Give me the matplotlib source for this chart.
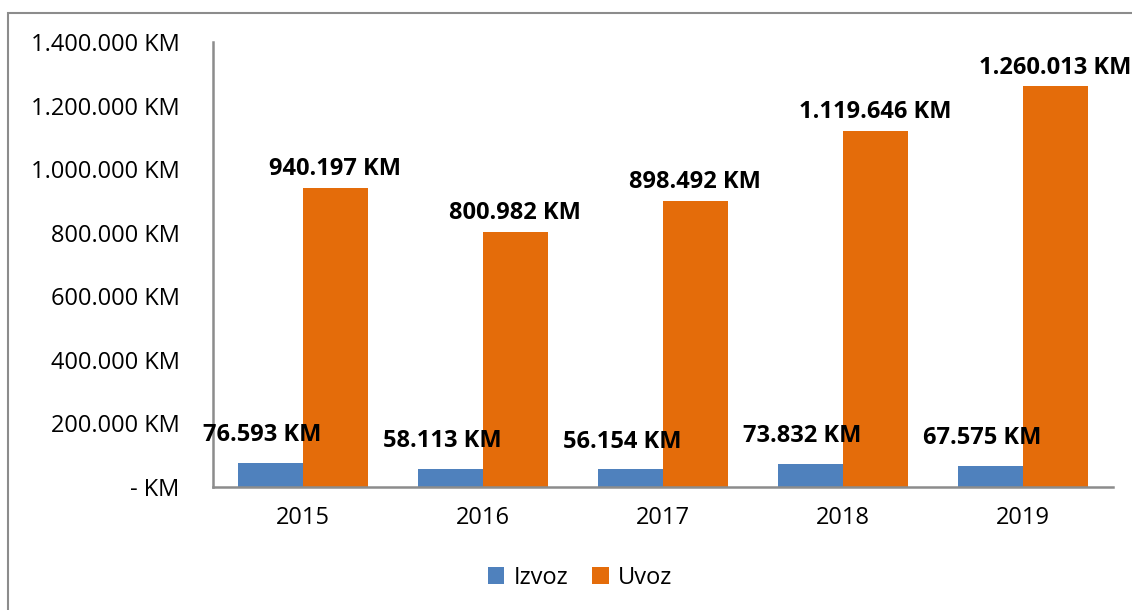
import numpy as np
import matplotlib.pyplot as plt
from matplotlib.patches import Rectangle

years = ["2015", "2016", "2017", "2018", "2019"]
izvoz = [76593, 58113, 56154, 73832, 67575]
uvoz = [940197, 800982, 898492, 1119646, 1260013]
yticks = [0, 200000, 400000, 600000, 800000, 1000000, 1200000, 1400000]

blue = "#4F81BD"
orange = "#E46C0A"
grey = "#8C8C8C"


def km(v):
    if v == 0:
        return "- KM"
    return "{:,}".format(v).replace(",", ".") + " KM"


plt.rcParams['font.family'] = ['Open Sans', 'DejaVu Sans']

fig = plt.figure(figsize=(11.32, 6.10), dpi=100)
ax = fig.add_axes([213 / 1132, 1 - 487 / 610, 900 / 1132, 445 / 610])

# outer chart border (only left/top visible in the reference)
fig.patches.append(Rectangle((8 / 1132, -0.1), 1.2, (610 - 13) / 610 + 0.1,
                             transform=fig.transFigure, fill=False,
                             edgecolor=grey, linewidth=1.5))

x = np.arange(len(years))
w = 0.36
b1 = ax.bar(x - w / 2, izvoz, w, color=blue, label="Izvoz")
b2 = ax.bar(x + w / 2, uvoz, w, color=orange, label="Uvoz")

for rect, v in zip(b1, izvoz):
    ax.annotate(km(v), (rect.get_x() + rect.get_width() / 2, v),
                xytext=(-6, 11), textcoords="offset points",
                ha="center", va="bottom", fontsize=17, fontweight="bold")
for rect, v in zip(b2, uvoz):
    ax.annotate(km(v), (rect.get_x() + rect.get_width() / 2, v),
                xytext=(0, 5), textcoords="offset points",
                ha="center", va="bottom", fontsize=17, fontweight="bold")

ax.set_xlim(-0.5, len(years) - 0.5)
ax.set_ylim(0, 1400000)
ax.set_yticks(yticks)
ax.set_yticklabels([km(v) for v in yticks], fontsize=17)
ax.set_xticks(x)
ax.set_xticklabels(years, fontsize=17)
ax.tick_params(axis="y", length=0, pad=24)
ax.tick_params(axis="x", length=0, pad=14)

for s in ["top", "right"]:
    ax.spines[s].set_visible(False)
for s in ["left", "bottom"]:
    ax.spines[s].set_color(grey)
    ax.spines[s].set_linewidth(1.8)

fig.legend(loc="center", bbox_to_anchor=(580 / 1132, 1 - 578 / 610), ncol=2,
           frameon=False, fontsize=17, handlelength=0.7, handleheight=0.7,
           handletextpad=0.4, columnspacing=1.0)

fig.savefig("out.png", dpi=100)
